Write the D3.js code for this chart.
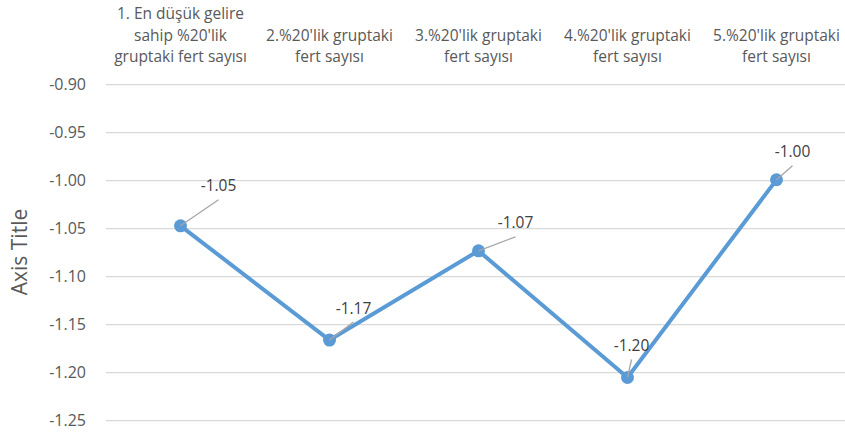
<!DOCTYPE html>
<html>
<head>
<meta charset="utf-8">
<script src="https://cdn.jsdelivr.net/npm/d3@7"></script>
<style>
body{margin:0;background:#fff;}
text{font-family:"Open Sans",sans-serif;}
</style>
</head>
<body>
<div id="chart"></div>
<script>
// categories (already wrapped the way the picture shows them)
var categories = [
    ['1. En düşük gelire','sahip %20\'lik','gruptaki fert sayısı'],
    ['2.%20\'lik gruptaki','fert sayısı'],
    ['3.%20\'lik gruptaki','fert sayısı'],
    ['4.%20\'lik gruptaki','fert sayısı'],
    ['5.%20\'lik gruptaki','fert sayısı']
];
var values = [-1.047, -1.166, -1.073, -1.205, -0.999];
var labels = ['-1.05','-1.17','-1.07','-1.20','-1.00'];
var yTicks = [-0.90,-0.95,-1.00,-1.05,-1.10,-1.15,-1.20,-1.25];
// where each data label sits relative to its point (styling, not data)
var labelDx = [38, 24, 37, 4, 16];
var labelDy = [-40, -32, -28, -32, -28];

var W = 845, H = 434;
var pl = 106, pr = 851, pt = 84.7, pb = 420.7;
var font = '"Open Sans",sans-serif';
var fmt = function(d){ return d3.format('.2f')(d).replace('\u2212', '-'); };

var svg = d3.select('#chart').append('svg')
    .attr('width', W).attr('height', H);

var x = d3.scaleBand().domain(d3.range(categories.length))
    .range([pl, pr]);
var y = d3.scaleLinear().domain([-0.90, -1.25]).range([pt, pb]);

// grid
svg.append('g').selectAll('line').data(yTicks).enter()
    .append('line')
    .attr('x1', pl).attr('x2', pr)
    .attr('y1', function(d){return y(d);}).attr('y2', function(d){return y(d);})
    .style('stroke', '#d9d9d9').style('stroke-width', 1.3);

// y axis labels
var yAxis = d3.axisLeft(y).tickValues(yTicks).tickFormat(fmt)
    .tickSize(0).tickPadding(20);
var ya = svg.append('g').attr('transform', 'translate(' + pl + ',0)').call(yAxis);
ya.select('.domain').remove();
ya.selectAll('text')
    .style('font-family', font)
    .style('font-size', '16px').style('fill', '#595959');

// category labels on top, bottom-aligned
var cat = svg.append('g').selectAll('text').data(categories).enter()
    .append('text')
    .attr('text-anchor', 'middle')
    .style('font-size', '15.5px').style('fill', '#595959');
cat.each(function(lines, i){
    var t = d3.select(this);
    var n = lines.length;
    lines.forEach(function(l, j){
        t.append('tspan')
            .attr('x', x(i) + x.bandwidth()/2)
            .attr('y', 62 - (n-1-j)*21.5)
            .text(l);
    });
});

// axis title
svg.append('text')
    .attr('transform', 'translate(27,252) rotate(-90)')
    .attr('text-anchor', 'middle')
    .style('font-size', '21px').style('fill', '#595959')
    .text('Axis Title');

var cx = function(d, i){ return x(i) + x.bandwidth()/2; };

// line
svg.append('path')
    .datum(values)
    .attr('d', d3.line().x(cx).y(function(d){return y(d);}))
    .style('fill', 'none').style('stroke', '#5b9bd5').style('stroke-width', 4)
    .style('stroke-linejoin', 'round');

// markers
svg.append('g').selectAll('circle').data(values).enter()
    .append('circle')
    .attr('cx', cx).attr('cy', function(d){return y(d);})
    .attr('r', 6.5).style('fill', '#5b9bd5');

// leader lines
svg.append('g').selectAll('line').data(values).enter()
    .append('line')
    .attr('x1', cx).attr('y1', function(d){return y(d);})
    .attr('x2', function(d, i){ return cx(d, i) + labelDx[i]; })
    .attr('y2', function(d, i){ return y(d) + labelDy[i] + 14; })
    .style('stroke', '#a6a6a6').style('stroke-width', 1.3);

// data labels
svg.append('g').selectAll('text').data(values).enter()
    .append('text')
    .attr('x', function(d, i){ return cx(d, i) + labelDx[i]; })
    .attr('y', function(d, i){ return y(d) + labelDy[i] + 5.5; })
    .attr('text-anchor', 'middle')
    .style('font-size', '15.5px').style('fill', '#404040')
    .text(function(d, i){ return labels[i]; });
</script>
</body>
</html>
